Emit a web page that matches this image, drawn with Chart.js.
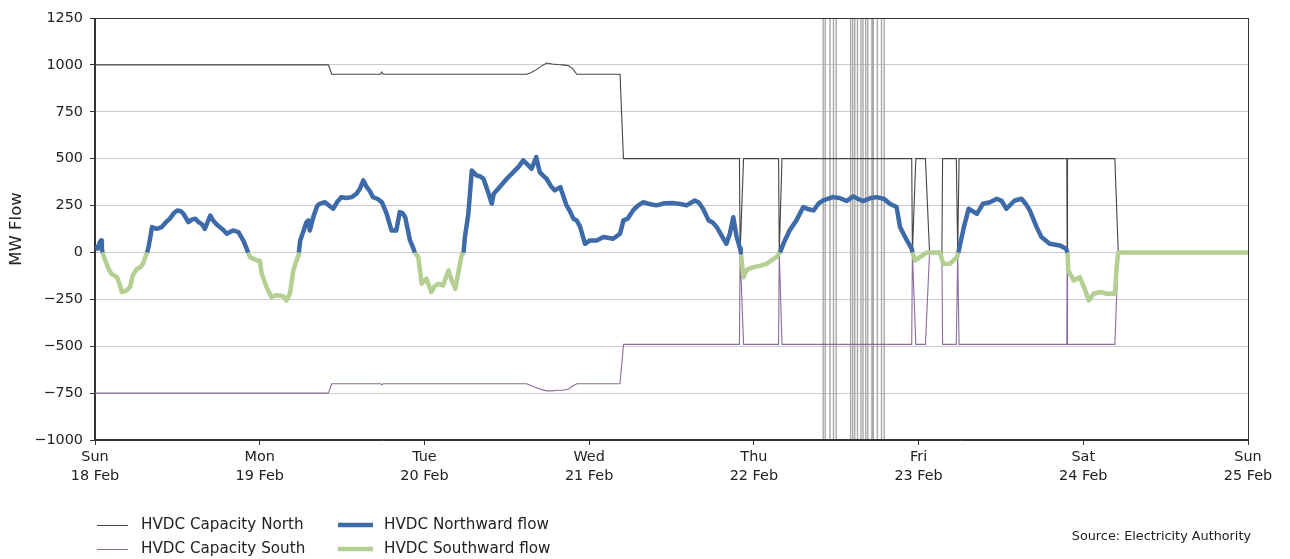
<!DOCTYPE html>
<html lang="en">
<head>
<meta charset="UTF-8">
<title>HVDC flow</title>
<script src="https://cdn.jsdelivr.net/npm/chart.js"></script>
<style>
  html, body { margin: 0; padding: 0; background: #fff; }
  #wrap { width: 1290px; height: 559px; }
</style>
</head>
<body>
<div id="wrap"><canvas id="hvdcChart" width="1290" height="559"></canvas></div>
<script>
// x axis is hours since Sun 18 Feb 00:00
const dayNames = ['Sun', 'Mon', 'Tue', 'Wed', 'Thu', 'Fri', 'Sat', 'Sun'];
const dayDates = ['18 Feb', '19 Feb', '20 Feb', '21 Feb', '22 Feb', '23 Feb', '24 Feb', '25 Feb'];

// net flow, MW (positive = northward)
const flowHours = [
  0.0, 0.4, 0.7, 0.9, 1.0, 1.1, 1.5, 2.0, 2.4, 3.2, 3.6, 3.9, 4.6, 5.1, 5.5, 6.1, 6.6, 7.0, 7.5, 7.6,
  7.8, 8.1, 8.3, 9.0, 9.7, 10.3, 10.9, 11.5, 12.0, 12.5, 12.9, 13.6, 14.1, 14.6, 15.1, 15.6, 16.0, 16.8, 17.2, 17.7,
  18.2, 18.7, 19.2, 19.8, 20.2, 20.9, 21.6, 22.1, 22.3, 22.6, 23.6, 24.0, 24.3, 25.0, 25.7, 26.3, 27.0, 27.5, 27.9, 28.4,
  28.9, 29.6, 29.7, 29.9, 30.4, 30.8, 31.1, 31.3, 31.9, 32.4, 32.8, 33.5, 34.1, 34.7, 35.3, 35.9, 36.6, 37.4, 38.1, 38.6,
  39.1, 39.6, 40.0, 40.5, 41.2, 41.8, 42.5, 43.2, 43.9, 44.4, 44.8, 45.2, 45.9, 46.4, 46.6, 47.1, 47.6, 48.3, 49.0, 49.5,
  50.0, 50.7, 51.5, 52.0, 52.5, 53.0, 53.4, 53.7, 53.9, 54.4, 54.9, 55.6, 56.1, 56.6, 57.2, 57.8, 58.1, 59.0, 60.0, 61.0,
  61.8, 62.4, 63.0, 63.6, 64.3, 64.8, 65.3, 65.8, 66.5, 67.0, 67.8, 68.7, 69.2, 69.7, 70.2, 70.7, 71.4, 72.1, 73.1, 74.1,
  75.5, 76.5, 77.0, 77.6, 78.4, 79.1, 79.9, 80.8, 81.8, 83.0, 84.3, 85.3, 86.2, 87.4, 88.0, 88.6, 89.4, 90.0, 90.6, 91.3,
  92.0, 92.5, 93.0, 93.5, 94.0, 94.1, 94.5, 94.9, 95.4, 96.0, 97.0, 97.9, 98.6, 99.3, 99.8, 100.3, 101.2, 102.2, 103.2, 104.0,
  104.7, 105.4, 106.1, 107.5, 108.5, 109.5, 110.5, 111.2, 111.9, 113.0, 113.9, 115.0, 115.8, 116.8, 117.3, 117.8, 118.3, 119.0, 119.1, 119.5,
  120.2, 121.2, 123.1, 123.6, 124.6, 125.6, 125.8, 126.6, 127.3, 128.5, 129.4, 130.4, 131.4, 132.1, 132.8, 134.0, 135.0, 135.6, 136.2, 137.2,
  137.9, 139.1, 140.6, 141.5, 141.7, 141.8, 142.6, 143.5, 144.3, 144.8, 145.5, 146.5, 147.4, 148.6, 148.9, 149.1, 168.0
];
const flowMW = [
  35, 20, 55, 64, 20, 0, -43, -90, -114, -132, -170, -211, -203, -185, -123, -87, -80, -60, -7, 0,
  28, 90, 135, 126, 135, 160, 180, 210, 224, 220, 206, 162, 175, 180, 162, 150, 126, 197, 171, 150,
  135, 120, 100, 112, 117, 108, 64, 20, 0, -25, -43, -43, -114, -185, -238, -228, -229, -235, -256, -220,
  -96, -16, 0, 64, 117, 160, 171, 117, 200, 250, 260, 268, 250, 233, 270, 295, 290, 295, 313, 340,
  384, 348, 330, 295, 285, 268, 206, 117, 117, 215, 210, 188, 64, 20, 0, -25, -167, -140, -211, -180,
  -167, -176, -96, -150, -194, -96, -16, 0, 82, 206, 437, 411, 405, 393, 330, 260, 313, 350, 393, 430,
  460, 491, 470, 446, 508, 428, 410, 393, 350, 331, 348, 251, 220, 180, 170, 135, 46, 64, 64, 82,
  73, 100, 171, 180, 224, 250, 268, 258, 251, 262, 263, 258, 251, 277, 265, 233, 171, 160, 135, 90,
  46, 100, 188, 82, 20, 0, -132, -96, -85, -78, -70, -60, -40, -25, 0, 46, 117, 171, 242, 230,
  224, 260, 277, 295, 290, 274, 299, 285, 274, 290, 295, 285, 260, 242, 135, 100, 64, 20, 0, -43,
  -25, 0, 0, -60, -60, -25, 0, 135, 233, 206, 260, 268, 286, 275, 233, 277, 286, 260, 224, 135,
  82, 46, 37, 20, 0, -96, -149, -132, -203, -256, -220, -211, -220, -220, -60, 0, 0
];

// link capacity, MW
const capHours = [
  0, 34.0, 34.5, 41.6, 41.8, 42.0, 62.9, 63.5, 64.2, 65.0, 65.8, 66.6, 67.4, 68.2, 69.0, 69.6, 70.2,
  76.5, 77.0, 93.9, 94.0, 94.5, 99.6, 99.7, 100.1, 119.0, 119.1, 119.6, 121.0, 121.6, 123.4, 123.5,
  125.5, 125.7, 125.9, 141.6, 141.65, 141.7, 148.6, 149.1, 168
];
const capNorth = [
  1000, 1000, 950, 950, 962, 950, 950, 958, 972, 992, 1010, 1005, 1002, 1000, 995, 980, 950,
  950, 500, 500, 0, 500, 500, 0, 500, 500, 0, 500, 500, 0, 0, 500,
  500, 0, 500, 500, 0, 500, 500, 0, 0
];
const capSouth = [
  -750, -750, -700, -700, -706, -700, -700, -710, -720, -730, -738, -738, -735, -735, -728, -712, -700,
  -700, -490, -490, 0, -490, -490, 0, -490, -490, 0, -490, -490, 0, 0, -490,
  -490, 0, -490, -490, 0, -490, -490, 0, 0
];

// capacity spikes on Thursday afternoon, run off the scale
const spikeHours = [106.1, 106.4, 107.1, 107.6, 108.0, 110.1, 110.4, 110.7, 111.1, 111.6,
  111.9, 112.3, 112.6, 113.2, 113.4, 114.0, 114.6, 115.0];

const yMin = -1000, yMax = 1250, yStep = 250;

const northPts = flowHours.map((h, i) => {
  const v = flowMW[i];
  const keep = v > 0 || (v === 0 && (flowMW[i - 1] > 0 || flowMW[i + 1] > 0));
  return { x: h, y: keep ? v : null };
});
const southPts = flowHours.map((h, i) => ({ x: h, y: flowMW[i] <= 0 ? flowMW[i] : null }));
const capNorthPts = capHours.map((h, i) => ({ x: h, y: capNorth[i] }));
const capSouthPts = capHours.map((h, i) => ({ x: h, y: capSouth[i] }));
const spikePts = [];
spikeHours.forEach(h => {
  spikePts.push({ x: h, y: yMin }, { x: h, y: yMax }, { x: h, y: null });
});

const FONT = 'DejaVu Sans';
const TEXT = '#222';

// spines on all four sides
const framePlugin = {
  id: 'frame',
  afterDraw(chart) {
    const { ctx, chartArea: a } = chart;
    ctx.save();
    ctx.strokeStyle = '#333';
    ctx.lineWidth = 1;
    ctx.strokeRect(Math.round(a.left) - 0.5, Math.round(a.top) + 0.5,
      Math.round(a.right - a.left) + 1, Math.round(a.bottom - a.top) - 1);
    ctx.restore();
  }
};

// two-column legend under the plot, plus source note
const legendPlugin = {
  id: 'legendBelow',
  afterDraw(chart) {
    const ctx = chart.ctx;
    const sets = chart.data.datasets.filter(d => d.inLegend);
    const cols = [{ x0: 97, x1: 128, tx: 141 }, { x0: 338, x1: 373, tx: 384 }];
    const rows = [525, 549];
    ctx.save();
    ctx.font = '15.2px "' + FONT + '"';
    ctx.textBaseline = 'middle';
    ctx.fillStyle = TEXT;
    sets.forEach(d => {
      const c = cols[d.legendCol], y = rows[d.legendRow];
      // thin swatches sit on a half pixel so they stay crisp
      const ly = d.borderWidth < 2 ? y + 0.5 : y;
      ctx.strokeStyle = d.borderColor;
      ctx.lineWidth = d.borderWidth < 2 ? 1 : d.borderWidth;
      ctx.beginPath();
      ctx.moveTo(c.x0, ly);
      ctx.lineTo(c.x1, ly);
      ctx.stroke();
      ctx.fillText(d.label, c.tx, y);
    });
    ctx.font = '12.8px "' + FONT + '"';
    ctx.textAlign = 'right';
    ctx.fillText('Source: Electricity Authority', 1251, 537);
    ctx.restore();
  }
};

new Chart(document.getElementById('hvdcChart'), {
  type: 'line',
  data: {
    datasets: [
      {
        label: 'HVDC Northward flow', data: northPts,
        borderColor: '#3d6aa8', borderWidth: 4.5, borderJoinStyle: 'round',
        order: 0, inLegend: true, legendCol: 1, legendRow: 0
      },
      {
        label: 'HVDC Southward flow', data: southPts,
        borderColor: '#b3cf92', borderWidth: 4.5, borderJoinStyle: 'round',
        order: 1, inLegend: true, legendCol: 1, legendRow: 1
      },
      {
        label: 'HVDC Capacity North', data: capNorthPts,
        borderColor: '#444444', borderWidth: 1.1,
        order: 2, inLegend: true, legendCol: 0, legendRow: 0
      },
      {
        label: 'HVDC Capacity South', data: capSouthPts,
        borderColor: '#8a6c9e', borderWidth: 1.1,
        order: 3, inLegend: true, legendCol: 0, legendRow: 1
      },
      {
        label: 'spikes', data: spikePts,
        borderColor: '#a8a8a8', borderWidth: 1.4,
        order: 4, inLegend: false
      }
    ]
  },
  options: {
    responsive: false,
    animation: false,
    spanGaps: false,
    layout: { padding: { left: 0, right: 42, top: 18, bottom: 69 } },
    elements: { point: { radius: 0 }, line: { tension: 0, fill: false } },
    plugins: { legend: { display: false }, tooltip: { enabled: false } },
    scales: {
      x: {
        type: 'linear', min: 0, max: 168,
        ticks: {
          stepSize: 24, autoSkip: false, maxRotation: 0, padding: 3,
          color: TEXT, font: { family: FONT, size: 14.4, lineHeight: 1.3 },
          callback: v => [dayNames[v / 24], dayDates[v / 24]]
        },
        grid: { drawOnChartArea: false, tickLength: 5, tickColor: '#333' },
        border: { color: '#333' },
        afterFit: s => { s.height = 50; }
      },
      y: {
        min: yMin, max: yMax,
        ticks: {
          stepSize: yStep, padding: 7, color: TEXT,
          font: { family: FONT, size: 14.4 },
          callback: v => String(v).replace('-', '\u2212')
        },
        grid: { color: '#cccccc', lineWidth: 1, tickLength: 5, tickColor: '#333' },
        border: { color: '#333' },
        title: {
          display: true, text: 'MW Flow', color: TEXT,
          font: { family: FONT, size: 16.5 }, padding: { top: 7, bottom: 0 }
        },
        afterFit: s => { s.width = 95; }
      }
    }
  },
  plugins: [framePlugin, legendPlugin]
});
</script>
</body>
</html>
